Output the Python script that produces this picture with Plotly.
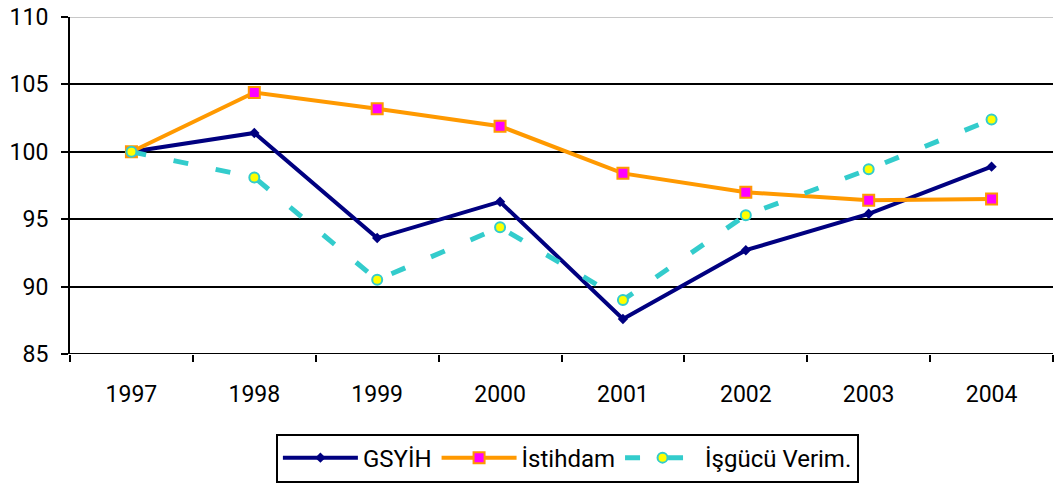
import plotly.graph_objects as go

years = ["1997", "1998", "1999", "2000", "2001", "2002", "2003", "2004"]
gsyih = [100.0, 101.4, 93.6, 96.3, 87.6, 92.7, 95.4, 98.9]
istihdam = [100.0, 104.4, 103.2, 101.9, 98.4, 97.0, 96.4, 96.5]
isgucu = [100.0, 98.1, 90.5, 94.4, 89.0, 95.3, 98.7, 102.4]
yticks = [85, 90, 95, 100, 105, 110]

font_family = "Roboto, 'DejaVu Sans', sans-serif"

fig = go.Figure()

fig.add_trace(go.Scatter(
    x=years, y=gsyih, name="GSYİH", mode="lines+markers",
    line=dict(color="#000080", width=4),
    marker=dict(symbol="diamond", size=8, color="#000080"),
))
fig.add_trace(go.Scatter(
    x=years, y=istihdam, name="İstihdam", mode="lines+markers",
    line=dict(color="#FF9900", width=4),
    marker=dict(symbol="square", size=11, color="#FF00FF",
                line=dict(color="#FF9900", width=2)),
))
fig.add_trace(go.Scatter(
    x=years, y=isgucu, name="İşgücü Verim.", mode="lines+markers",
    line=dict(color="#33CCCC", width=5, dash="15px,28px"),
    marker=dict(symbol="circle", size=10, color="#FFFF00",
                line=dict(color="#33CCCC", width=2)),
))

fig.update_layout(
    width=1055, height=485,
    margin=dict(l=70, r=2, t=17, b=129),
    paper_bgcolor="white", plot_bgcolor="white",
    font=dict(family=font_family, size=23, color="black"),
    showlegend=True,
    legend=dict(
        orientation="h", x=0.506, xanchor="center", y=-0.236, yanchor="top",
        bordercolor="black", borderwidth=2, bgcolor="white",
        font=dict(size=24), itemwidth=75, tracegroupgap=0,
    ),
)

fig.update_xaxes(
    type="category", tickson="boundaries", ticks="outside", ticklen=7,
    tickwidth=2, tickcolor="black", showline=False, showgrid=False,
    range=[-0.5, 7.5], ticklabelstandoff=24, automargin=False,
)
fig.update_yaxes(
    range=[85, 110], tickvals=yticks, ticks="outside", ticklen=7,
    tickwidth=2, tickcolor="black", showline=True, linewidth=2,
    linecolor="black", showgrid=True, gridcolor="black", gridwidth=2,
    zeroline=False, ticklabelstandoff=8, automargin=False,
    ticklabeloverflow="allow",
)

# top gridline is light grey in the reference
fig.add_shape(type="line", xref="paper", yref="y", x0=0, x1=1, y0=110, y1=110,
              line=dict(color="#C8C8C8", width=2))
# bottom axis line
fig.add_shape(type="line", xref="paper", yref="y", x0=0, x1=1, y0=85, y1=85,
              line=dict(color="black", width=2))

# drop the default 8px body margin so the figure fills the window
fig.write_html("out.html", config={"displayModeBar": False},
               post_script="document.body.style.margin='0';")
